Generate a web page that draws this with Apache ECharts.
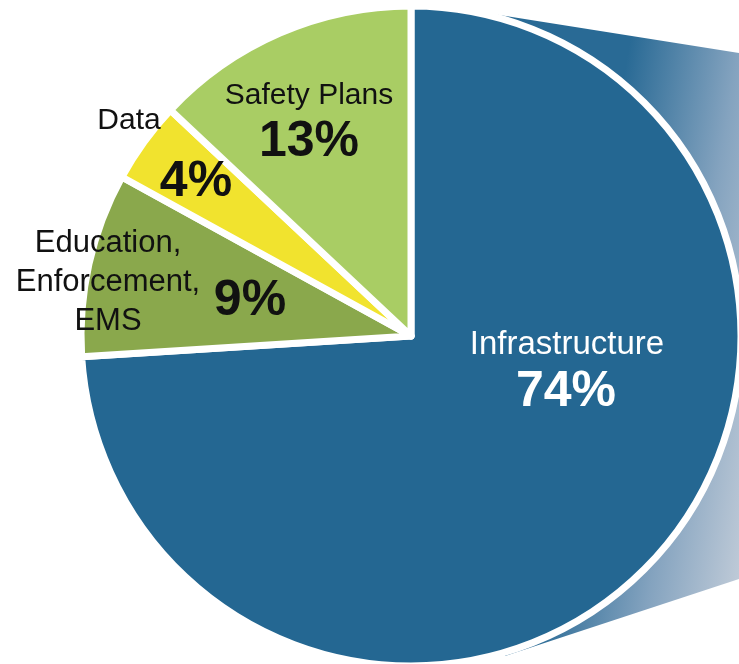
<!DOCTYPE html>
<html>
<head>
<meta charset="utf-8">
<script src="https://cdn.jsdelivr.net/npm/echarts@6/dist/echarts.min.js"></script>
<style>
html,body{margin:0;padding:0;background:#fff;}
#chart{width:739px;height:664px;}
</style>
</head>
<body>
<div id="chart"></div>
<script>
// ---- data ----
var categories = ['Infrastructure', 'Education, Enforcement, EMS', 'Data', 'Safety Plans'];
var shares = [74, 9, 4, 13];

// ---- styling (kept separate from data) ----
var sliceColors = ['#246792', '#8aa84c', '#f1e32e', '#a9cd64'];
var textColors = ['#ffffff', '#111111', '#111111', '#111111'];
var nameSizes = [33, 31, 30, 30];
var namePos = [[567, 345], [108, 282], [129, 121], [309, 96]];
var pctPos = [[566, 392], [250, 301], [196, 182], [309, 142]];
var FONT = '"Liberation Sans", Arial, Helvetica, sans-serif';

var chart = echarts.init(document.getElementById('chart'), null, {renderer: 'canvas'});

function buildData(kind) {
  return categories.map(function (c, i) {
    return {
      name: c,
      value: shares[i],
      itemStyle: kind === 'slice' ? {color: sliceColors[i]} : {color: 'rgba(0,0,0,0)'},
      label: kind === 'slice'
        ? {color: textColors[i], fontSize: 50, fontWeight: 'bold'}
        : {color: textColors[i], fontSize: nameSizes[i]}
    };
  });
}

var fade = new echarts.graphic.LinearGradient(630, 40, 825, 72, [
  {offset: 0, color: '#296a95'},
  {offset: 0.55, color: '#84a3bf'},
  {offset: 1, color: '#c0cbd8'}
], true);

var option = {
  backgroundColor: '#ffffff',
  animation: false,
  graphic: [{
    type: 'polygon',
    z: 0,
    shape: {points: [[411, 336], [430, 4], [739, 53], [739, 579], [505, 656]]},
    style: {fill: fade}
  }],
  series: [
    {
      type: 'pie',
      z: 2,
      center: [411, 336],
      radius: 330,
      startAngle: 90,
      clockwise: true,
      avoidLabelOverlap: false,
      silent: true,
      itemStyle: {borderColor: '#ffffff', borderWidth: 7},
      label: {
        show: true,
        position: 'inside',
        formatter: '{c}%',
        fontFamily: FONT
      },
      labelLine: {show: false},
      labelLayout: function (p) {
        var q = pctPos[p.dataIndex];
        return {x: q[0], y: q[1], align: 'center', verticalAlign: 'middle'};
      },
      data: buildData('slice')
    },
    {
      type: 'pie',
      z: 3,
      center: [411, 336],
      radius: 330,
      startAngle: 90,
      clockwise: true,
      avoidLabelOverlap: false,
      silent: true,
      itemStyle: {borderWidth: 0},
      label: {
        show: true,
        position: 'inside',
        fontFamily: FONT,
        lineHeight: 39,
        align: 'center',
        formatter: function (p) { return p.name.replace(/, /g, ',\n'); }
      },
      labelLine: {show: false},
      labelLayout: function (p) {
        var q = namePos[p.dataIndex];
        return {x: q[0], y: q[1], align: 'center', verticalAlign: 'middle'};
      },
      data: buildData('name')
    }
  ]
};
chart.setOption(option);
</script>
</body>
</html>
